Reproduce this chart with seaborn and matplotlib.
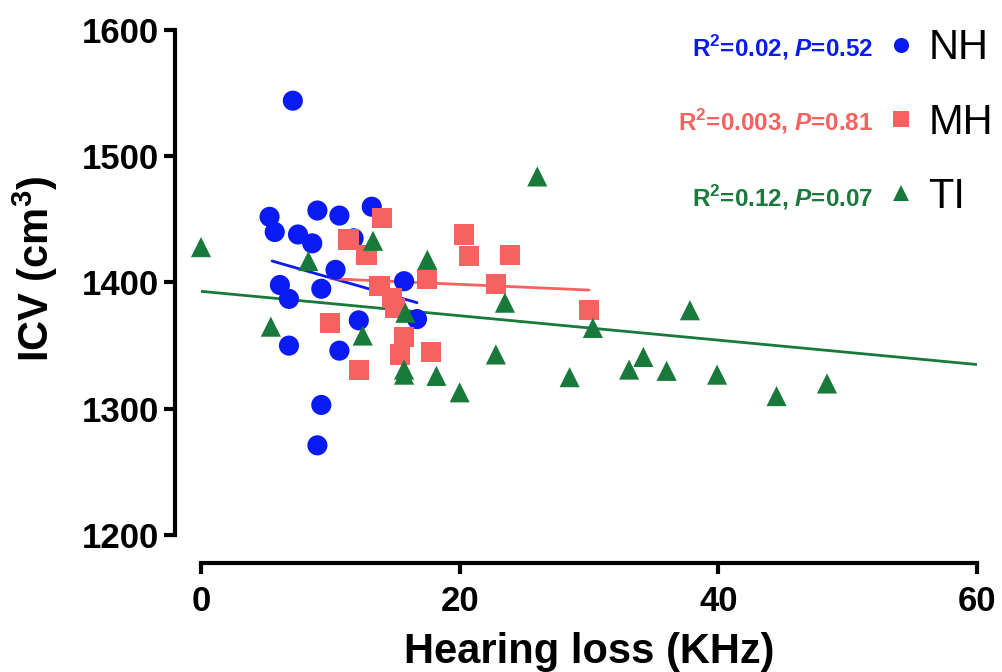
import numpy as np
import pandas as pd
import matplotlib
matplotlib.use("Agg")
import matplotlib.pyplot as plt
import seaborn as sns

# -----------------------------
# DATA
# -----------------------------

nh_x = [7.1, 5.3, 5.7, 9.0, 10.7, 13.2, 7.5, 8.6, 11.8, 10.4,
        6.1, 6.8, 9.3, 15.7, 12.2, 16.7, 6.8, 10.7, 9.3, 9.0]
nh_y = [1544, 1452, 1440, 1457, 1453, 1460, 1438, 1431, 1435, 1410,
        1398, 1387, 1395, 1401, 1370, 1371, 1350, 1346, 1303, 1271]

mh_x = [14.0, 11.4, 12.8, 13.8, 14.8, 15.0, 17.5, 10.0, 15.7, 15.4,
        17.8, 12.2, 20.3, 20.7, 23.9, 22.8, 30.0]
mh_y = [1451, 1434, 1422, 1397, 1388, 1380, 1403, 1368, 1357, 1343,
        1345, 1331, 1438, 1421, 1422, 1399, 1378]

ti_x = [0.0, 5.4, 8.3, 12.5, 13.3, 15.7, 15.7, 15.8, 17.5, 18.2, 20.0,
        22.8, 23.5, 26.0, 28.5, 30.3, 33.1, 34.2, 36.0, 37.8, 39.9,
        44.5, 48.4]
ti_y = [1428, 1365, 1417, 1358, 1433, 1331, 1327, 1376, 1418, 1326, 1313,
        1343, 1384, 1484, 1325, 1364, 1331, 1341, 1330, 1378, 1327,
        1310, 1320]

# fitted lines, end points
nh_fit_x = [5.5, 16.7]
nh_fit_y = [1417, 1384]
mh_fit_x = [10.0, 30.0]
mh_fit_y = [1403, 1394]
ti_fit_x = [0.0, 60.0]
ti_fit_y = [1393, 1335]

groups = ["NH", "MH", "TI"]
stats_text = [r"R$^\mathbf{2}$=0.02, $\mathbfit{P}$=0.52",
              r"R$^\mathbf{2}$=0.003, $\mathbfit{P}$=0.81",
              r"R$^\mathbf{2}$=0.12, $\mathbfit{P}$=0.07"]

colors = {"NH": "#0a1af2", "MH": "#f6625f", "TI": "#18793a"}
markers = {"NH": "o", "MH": "s", "TI": "^"}

df = pd.DataFrame({
    "loss": nh_x + mh_x + ti_x,
    "icv": nh_y + mh_y + ti_y,
    "group": ["NH"] * len(nh_x) + ["MH"] * len(mh_x) + ["TI"] * len(ti_x),
})

fits = pd.DataFrame({
    "loss": nh_fit_x + mh_fit_x + ti_fit_x,
    "icv": nh_fit_y + mh_fit_y + ti_fit_y,
    "group": ["NH"] * 2 + ["MH"] * 2 + ["TI"] * 2,
})

# -----------------------------
# PLOT
# -----------------------------

sns.set_theme(style="ticks")
plt.rcParams["font.family"] = ["Liberation Sans", "DejaVu Sans"]
plt.rcParams["font.weight"] = "bold"
plt.rcParams["mathtext.fontset"] = "custom"
plt.rcParams["mathtext.rm"] = "Liberation Sans:bold"
plt.rcParams["mathtext.bf"] = "Liberation Sans:bold"
plt.rcParams["mathtext.bfit"] = "Liberation Sans:bold:italic"

fig = plt.figure(figsize=(10.02, 6.72), dpi=100)
ax = fig.add_axes([0.2006, 0.2039, 0.7745, 0.7515])

sns.lineplot(
    data=fits, x="loss", y="icv", hue="group", hue_order=groups,
    palette=colors, linewidth=2, legend=False, zorder=2, ax=ax
)

sns.scatterplot(
    data=df, x="loss", y="icv", hue="group", style="group",
    hue_order=groups, style_order=groups,
    palette=colors, markers=markers, s=210, linewidth=0,
    clip_on=False, zorder=3, ax=ax
)

ax.set_xlim(0, 60)
ax.set_ylim(1200, 1600)
ax.set_xticks([0, 20, 40, 60])
ax.set_yticks([1200, 1300, 1400, 1500, 1600])

ax.set_xlabel("Hearing loss (KHz)", fontsize=30, fontweight="bold",
              color="black", labelpad=10)
ax.set_ylabel("ICV (cm$^\\mathregular{3}$)", fontsize=30, fontweight="bold",
              color="black")
ax.yaxis.set_label_coords(-0.182, 0.527)

ax.tick_params(axis="x", pad=8)
ax.tick_params(axis="y", pad=3)
ax.tick_params(axis="both", width=3, length=8, color="black",
               labelsize=25, labelcolor="black")
for side in ["left", "bottom"]:
    ax.spines[side].set_linewidth(3)
    ax.spines[side].set_color("black")

sns.despine(ax=ax, offset={"left": 19, "bottom": 20}, trim=True)

# legend
handles, labels = ax.get_legend_handles_labels()
leg = ax.legend(
    handles, labels, loc="upper right", bbox_to_anchor=(1.042, 1.036),
    frameon=False, prop={"size": 30, "weight": "normal"}, markerscale=0.75,
    handlelength=0.6, handletextpad=0.35, labelspacing=0.82, borderaxespad=0
)
for t in leg.get_texts():
    t.set_color("black")

# stats text
text_y = [0.966, 0.818, 0.669]
for txt, g, ty in zip(stats_text, groups, text_y):
    ax.text(0.866, ty, txt, transform=ax.transAxes, ha="right", va="center",
            fontsize=17.5, fontweight="bold", color=colors[g])

fig.savefig("out.png", dpi=100)
